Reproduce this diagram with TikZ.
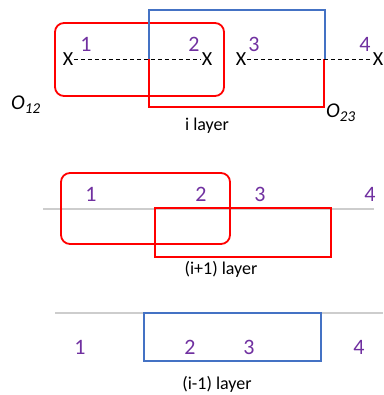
\documentclass[tikz,border=0pt]{standalone}
\usepackage{fontspec}
\setmainfont{Carlito}
\usepackage{xcolor}
\usetikzlibrary{arrows.meta, positioning}
\definecolor{ored}{RGB}{255,0,0}
\definecolor{oblue}{RGB}{68,114,196}
\definecolor{opurple}{RGB}{112,48,160}
\definecolor{ogray}{RGB}{205,205,205}
\newcommand{\osub}[2]{\textit{#1\raisebox{-4pt}{\fontsize{15}{16}\selectfont #2}}}

\begin{document}
\begin{tikzpicture}[x=1pt, y=-1pt,
  num/.style={text=opurple, font=\fontsize{22}{24}\selectfont, inner sep=0pt, anchor=base},
  xmk/.style={font=\fontsize{20}{22}\selectfont, inner sep=0.5pt, anchor=base},
  lbl/.style={font=\fontsize{18}{20}\selectfont, inner sep=0pt, anchor=base},
  onode/.style={font=\fontsize{21}{23}\selectfont, inner sep=0pt, anchor=base west},
  rbox/.style={draw=ored, line width=1.8pt, rounded corners=9pt},
  rrect/.style={draw=ored, line width=1.8pt},
  brect/.style={draw=oblue, line width=1.8pt},
  axis/.style={draw=ogray, line width=1.3pt}]
\useasboundingbox (0,0) rectangle (383,395);
% i layer
\draw[rbox] (55,23) rectangle (224,96);
\draw[brect] (149,59) -- (149,10) -- (325,10) -- (325,59);
\draw[rrect] (149,59) -- (149,107) -- (324,107) -- (324,59);
\node[xmk] (xa) at (68,66) {X};
\node[xmk] (xb) at (207,66) {X};
\node[xmk] (xc) at (241,66) {X};
\node[xmk] (xd) at (378,66) {X};
\draw[dash pattern=on 4pt off 3pt, line width=0.8pt] (xa) -- (xb);
\draw[dash pattern=on 4pt off 3pt, line width=0.8pt] (xc) -- (xd);
\node[num] (t1) at (86,52) {1};
\node[num] (t2) at (194,52) {2};
\node[num] (t3) at (254,52) {3};
\node[num] (t4) at (365,52) {4};
\node[onode] (o12) at (11,110) {\osub{O}{12}};
\node[onode] (o23) at (326,118) {\osub{O}{23}};
\node[lbl] (li) at (207,131) {i layer};
% (i+1) layer
\draw[axis] (43,209) -- (374,209);
\draw[rbox] (61,173) rectangle (230,244);
\draw[rrect] (155,208) rectangle (331,257);
\node[num] (m1) at (91,201) {1};
\node[num] (m2) at (201,201) {2};
\node[num] (m3) at (260,201) {3};
\node[num] (m4) at (370,201) {4};
\node[lbl] (lup) at (221,274) {(i+1) layer};
% (i-1) layer
\draw[axis] (55,313) -- (383,313);
\draw[brect] (144,313) rectangle (321,361);
\node[num] (b1) at (80,354) {1};
\node[num] (b2) at (190,354) {2};
\node[num] (b3) at (249,354) {3};
\node[num] (b4) at (359,354) {4};
\node[lbl] (ldn) at (217,389) {(i-1) layer};
\end{tikzpicture}
\end{document}
